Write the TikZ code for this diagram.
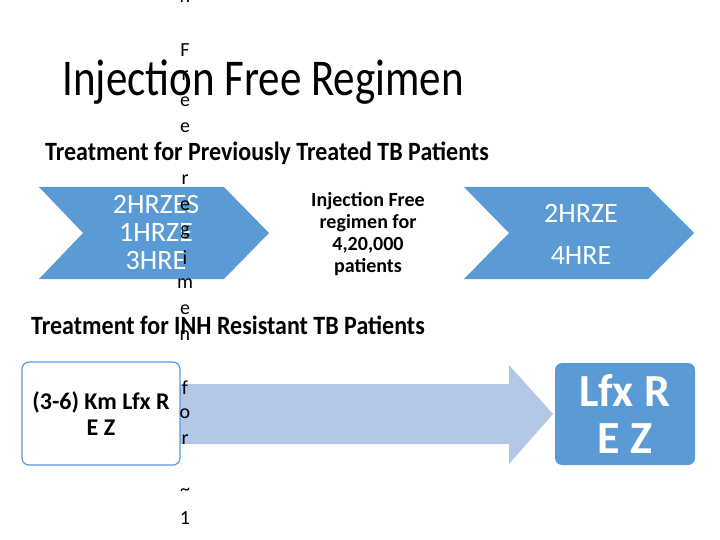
\documentclass[tikz,border=0pt]{standalone}
\usepackage{fontspec}
\setmainfont{Carlito}
\begin{document}
\begin{tikzpicture}[x=1pt,y=-1pt,
    chev/.style={fill=blueA,draw=none},
    wtext/.style={text=white,align=center,font=\fontsize{28}{42}\selectfont},
    head/.style={font=\bfseries\fontsize{24}{26}\selectfont,yscale=1.1},
    vletter/.style={font=\fontsize{20}{20}\selectfont,inner sep=0pt}
]

% colours
\definecolor{blueA}{RGB}{91,155,213}
\definecolor{blueB}{RGB}{180,199,231}

\useasboundingbox (0,0) rectangle (720,540);

% title and headings
\node[yscale=1.2] (title) at (263,82) {\fontsize{43}{46}\selectfont Injection Free Regimen};
\node[head] (prev) at (267,153) {Treatment for Previously Treated TB Patients};
\node[head] (inh) at (228,325) {Treatment for INH Resistant TB Patients};

% chevrons
\fill[chev] (39,187) -- (224,187) -- (269,233) -- (224,279) -- (39,279) -- (83,233) -- cycle;
\fill[chev] (464,187) -- (648,187) -- (694,233) -- (648,279) -- (464,279) -- (509,233) -- cycle;
\node[wtext,font=\fontsize{28}{28}\selectfont] (old) at (156,233) {2HRZES\\1HRZE\\3HRE};
\node[wtext] (new) at (581,234) {2HRZE\\4HRE};
\node[align=center,font=\bfseries\fontsize{20}{22}\selectfont] (free) at (368,234)
    {Injection Free\\regimen for\\4,20,000\\patients};

% INH resistant
\fill[blueB] (180,384) -- (509,384) -- (509,365) -- (553,414) -- (509,464) -- (509,444) -- (180,444) -- cycle;
\node[draw=blueA,line width=1.2pt,fill=white,rounded corners=7pt,minimum width=158pt,minimum height=103pt,
    align=center,font=\bfseries\fontsize{24}{26}\selectfont] (km) at (101,413.5) {(3-6) Km Lfx R\\E Z};
\node[fill=blueA,rounded corners=7pt,minimum width=140pt,minimum height=102pt,text=white,
    align=center,font=\bfseries\fontsize{46}{47}\selectfont] (lfx) at (625,414) {Lfx R\\E Z};

% stray vertical text
\foreach \ch/\k in {n/0,F/2,r/3,e/4,e/5,r/7,e/8,g/9,i/10,m/11,e/12,n/13,f/15,o/16,r/17,\textasciitilde/19,1/20}
    \node[vletter] (v\k) at (185,-2+26*\k) {\ch};

\end{tikzpicture}
\end{document}
